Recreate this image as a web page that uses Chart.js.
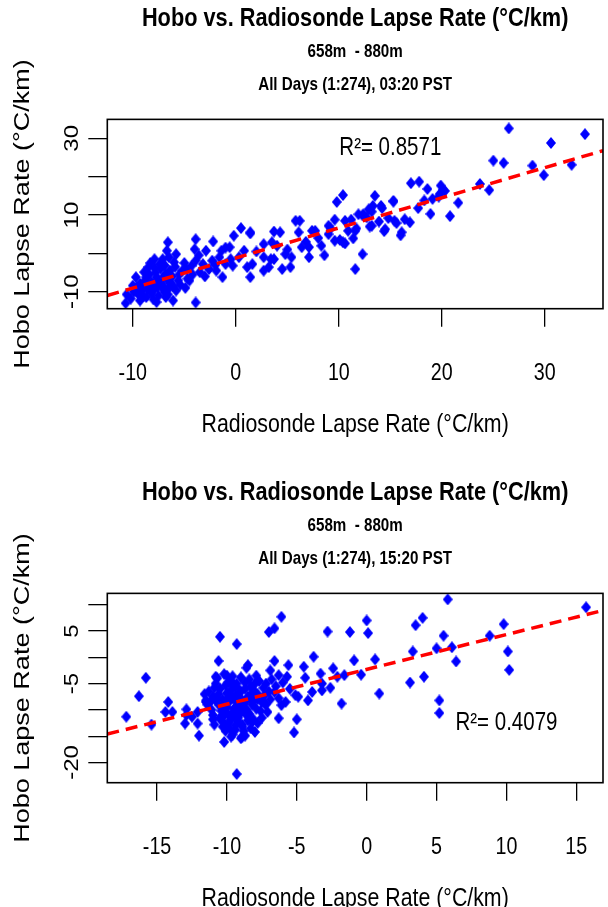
<!DOCTYPE html>
<html>
<head>
<meta charset="utf-8">
<script src="https://cdn.jsdelivr.net/npm/chart.js@4.4.0/dist/chart.umd.min.js"></script>
<style>
  html, body { margin: 0; padding: 0; background: #fff; }
  body { width: 608px; height: 907px; overflow: hidden; position: relative; }
  .panel { position: absolute; left: 0; width: 608px; height: 474px; }
  #panel1 { top: 0; }
  #panel2 { top: 474px; }
</style>
</head>
<body>
<div class="panel" id="panel1"><canvas id="chart0320" width="608" height="474"></canvas></div>
<div class="panel" id="panel2"><canvas id="chart1520" width="608" height="474"></canvas></div>
<script>
// ---- 03:20 PST: radiosonde (x) vs hobo (y) lapse rates, °C/km
const radio0320 = [
  26.5,33.9,30.6,25.0,26.0,28.8,29.9,32.6,23.7,24.6,17.8,18.6,19.9,20.1,19.8,19.1,18.3,21.6,18.9,20.8,17.0,20.3,19.7,17.7,
  10.4,9.8,13.5,15.3,14.1,13.3,11.9,12.4,10.6,9.6,9.0,13.2,14.5,15.4,16.4,16.9,16.1,11.6,10.9,11.6,12.3,14.2,13.2,14.8,15.6,13.9,14.4,13.0,11.7,11.4,10.6,10.1,11.2,12.3,12.7,16.0,15.3,12.9,
  5.8,6.2,7.7,9.0,6.1,3.7,4.3,9.6,10.4,8.3,7.1,6.4,7.1,5.4,4.8,5.3,4.5,3.7,3.4,2.7,1.4,2.7,3.2,1.4,1.6,2.7,0.5,-0.2,1.4,-0.6,0.8,1.1,0.3,-0.3,8.0,6.8,5.0,2.0,4.0,8.6,9.2,7.4,3.5,
  -10.7,-10.6,-10.0,-9.7,-9.0,-8.9,-8.5,-7.9,-7.4,-7.7,-8.2,-7.2,-8.0,-6.9,-6.3,-6.1,-6.8,-8.7,-5.8,-5.6,-6.4,-6.0,-6.7,-5.8,-7.1,-6.9,-9.3,-9.7,-8.7,-5.2,-4.7,-4.5,-4.8,-4.3,-3.9,-4.0,-3.2,-2.6,-3.5,-2.2,-2.9,-2.3,-1.6,-1.9,-1.3,-1.0,-1.4,-3.9,-7.7,-9.3,-6.6,-3.9,
  -8.5,-7.8,-7.0,-6.5,-8.2,-7.5,-9.0,-7.3,-6.2,-5.5,-8.8,-7.6,-6.6,-5.9,-9.5,-10.2,-7.0,-8.3,-6.5,-5.0,-4.2,-3.0,-2.0,-0.5,-1.0,-3.6,-6.8,-7.9,-9.6,-8.0,
  -9.2,-8.6,-8.1,-7.6,-7.1,-6.6,-6.1,-9.9,-8.4,-7.0,-5.4,-4.9
];
const hobo0320 = [
  32.6,31.1,28.8,24.2,23.6,22.9,20.4,23.1,18.1,16.5,18.7,16.8,17.7,16.6,15.5,14.2,13.8,13.2,10.3,9.7,18.3,16.3,14.8,11.8,
  15.2,13.4,15.0,13.7,12.4,12.4,10.2,10.2,8.5,8.8,7.2,7.2,6.3,8.5,8.9,8.1,5.5,5.9,5.9,-4.1,-0.2,11.8,10.9,9.2,7.9,8.3,5.8,7.0,6.5,3.9,2.6,3.5,8.8,9.9,9.4,4.7,13.5,11.5,
  8.5,8.5,5.9,5.0,5.5,5.7,5.5,3.3,2.9,2.0,1.6,1.6,-1.0,-1.0,-0.2,-3.6,-4.1,-1.5,-1.5,2.4,5.5,-4.5,-3.6,-6.2,-2.8,-1.0,6.6,4.6,5.2,1.6,0.7,-3.6,-1.0,-3.2,4.0,3.0,1.0,0.5,2.0,-0.5,6.5,5.9,2.9,
  -13.0,-10.7,-8.4,-9.7,-11.2,-4.9,-3.6,-1.5,-2.8,-6.2,-7.5,-7.9,-9.7,-10.1,-7.9,-12.3,-11.4,-11.4,-9.7,-7.1,-4.5,-2.3,0.7,-0.2,-1.5,-3.2,-7.9,-6.2,-6.2,-4.5,-6.6,-7.1,-4.1,-3.2,-1.9,1.1,-2.8,-4.1,-4.9,3.1,0.7,-1.9,-1.0,-4.5,-6.2,-2.8,0.7,-12.8,-12.7,-12.3,2.9,3.7,
  -8.5,-5.0,-6.0,-9.0,-10.5,-11.0,-9.0,-4.0,-6.0,-5.5,-7.0,-8.8,-7.0,-3.5,-10.5,-11.8,-9.5,-2.5,-1.0,-2.5,-5.5,-6.0,-3.0,-1.5,1.5,-0.5,-5.5,-3.8,-8.8,-12.0,
  -10.0,-9.3,-8.0,-6.8,-8.5,-10.7,-8.6,-10.0,-5.5,-3.0,-8.2,-9.0
];
// fitted line, read at the plot edges
const fit0320X = [-12.48, 35.65];
const fit0320Y = [-11.0, 26.8];
const xTicks0320 = [-10, 0, 10, 20, 30];
const yTicks0320 = [-10, 0, 10, 20, 30];
const yLabels0320 = [-10, 10, 30];

// ---- 15:20 PST
const radio1520 = [
  -17.2,-16.3,-15.8,-15.4,-14.2,-14.4,-13.9,-13.0,-12.9,-12.5,-12.1,-12.0,-11.5,-11.0,-10.5,-10.6,-9.3,-8.5,-8.6,-10.8,-10.2,-9.6,-10.2,-9.3,-9.7,-8.9,-9.0,-8.7,-8.2,-7.1,-6.3,-5.2,-5.0,-12.9,-12.1,-11.5,
  -6.1,-6.6,-7.0,-2.8,-1.2,0.0,0.1,3.5,4.0,3.3,5.0,-6.6,-5.6,-3.8,-4.5,-3.3,-2.4,-2.1,-1.6,-0.9,-0.4,0.6,-6.9,-6.3,-5.7,-4.4,-3.2,-3.2,-2.6,-3.9,-4.2,-5.1,-4.9,-1.8,0.9,3.1,4.1,5.2,5.2,-7.3,-6.3,-6.1,-6.6,-7.2,
  5.8,15.7,9.8,8.8,5.5,6.1,6.4,10.1,10.2,
  -11.3,-11.0,-10.8,-10.5,-10.3,-10.0,-9.8,-9.5,-9.3,-9.0,-8.8,-8.5,-8.2,-8.0,-7.8,-7.5,-10.6,-10.2,-9.9,-9.6,-9.2,-8.9,-8.6,-8.3,-9.4,-10.1,-10.4,-11.1,-11.4,-10.7,-9.7,-9.0,-8.4,-7.9,-7.4,-7.6,-8.1,-9.5,-9.8,-10.9,-9.1,-8.7,-10.0,-9.3,-8.0,-7.3,-7.0,-7.2,-11.6,-10.4,-9.7,-8.9,-8.5,-9.6,-10.3,-8.0,-7.8,-9.2,-10.1,-8.3,-7.7,-9.9,-9.0,-8.6,-10.7,-11.2,-7.5,-8.8,-9.4,-10.0,-6.8,-6.5,-6.0,-5.5,-5.8,-6.9,
  -10.9,-10.6,-10.3,-10.0,-9.7,-9.4,-9.1,-8.8,-8.5,-8.2,-7.9,-10.5,-10.1,-9.8,-9.5,-9.2,-8.9,-8.6,-8.3,-10.8,-10.2,-9.6,-9.0,-8.4,-7.8,-11.0,-9.9,-9.3,-8.7,-8.1
];
const hobo1520 = [
  -11.3,-7.4,-3.9,-12.8,-8.5,-10.4,-10.4,-12.6,-11.0,-11.3,-12.6,-14.9,-8.2,-11.0,3.9,-0.7,2.5,-1.5,-2.0,-3.7,-3.2,-3.6,-16.1,-22.2,-15.1,-15.1,-15.4,-14.9,-12.3,-10.4,-11.6,-14.3,-11.8,-9.9,-10.4,-8.5,
  7.7,5.5,4.8,4.9,4.8,7.0,4.6,6.1,7.5,1.1,1.7,-0.7,-1.5,0.1,-1.8,-3.1,-2.1,-3.7,-3.4,-0.6,-3.3,-0.4,-2.5,-3.4,-3.7,-3.9,-5.0,-6.3,-5.8,-6.6,-8.2,-7.2,-7.5,-8.8,-6.9,-4.8,-3.7,-8.2,-10.6,-8.8,-7.8,-9.1,-6.6,-5.0,
  11.0,9.5,6.3,4.1,4.1,1.9,-0.8,1.1,-2.4,
  -6.5,-7.5,-5.0,-6.0,-8.0,-9.5,-7.0,-5.5,-8.5,-6.5,-10.0,-7.5,-9.0,-5.0,-7.0,-8.5,-9.0,-11.0,-12.5,-10.5,-11.5,-12.8,-11.0,-13.5,-13.8,-14.0,-12.0,-10.0,-9.0,-4.0,-4.5,-3.8,-4.2,-3.5,-5.8,-10.2,-11.8,-9.8,-8.3,-12.8,-7.6,-6.0,-6.8,-5.0,-8.0,-7.2,-6.5,-9.0,-7.0,-10.2,-11.8,-9.2,-12.0,-14.7,-13.2,-14.2,-12.5,-6.0,-5.3,-5.5,-4.5,-10.9,-10.5,-8.2,-7.8,-8.5,-11.5,-14.0,-12.9,-3.5,-4.2,-5.5,-4.8,-6.0,-8.5,-8.0,
  -5.8,-7.0,-9.2,-8.0,-6.2,-7.2,-9.5,-8.8,-10.5,-6.8,-9.8,-11.5,-12.8,-13.5,-11.0,-12.2,-13.2,-9.9,-7.9,-8.2,-10.8,-7.8,-8.0,-10.8,-8.0,-11.8,-4.8,-10.2,-4.8,-6.2
];
const fit1520X = [-18.56, 16.91];
const fit1520Y = [-14.6, 8.9];
const xTicks1520 = [-15, -10, -5, 0, 5, 10, 15];
const yTicks1520 = [-20, -15, -10, -5, 0, 5, 10];
const yLabels1520 = [-20, -5, 5];

const FONT = '"Liberation Sans", Arial, sans-serif';
Chart.defaults.font.family = FONT;
Chart.defaults.color = '#000';

// the original picture is squeezed sideways: squeeze all text by the
// same amount on screen x (so rotated text gets thinner, not shorter)
const SQUEEZE = 0.82;
const narrowText = {
  id: 'narrowText',
  beforeInit(chart) {
    const ctx = chart.ctx;
    const fill = ctx.fillText.bind(ctx);
    ctx.fillText = (text, x, y) => {
      const m = ctx.getTransform();
      const p = m.transformPoint(new DOMPoint(x, y));
      ctx.save();
      ctx.setTransform(new DOMMatrix([SQUEEZE, 0, 0, 1, p.x, p.y])
        .multiply(new DOMMatrix([m.a, m.b, m.c, m.d, 0, 0])));
      fill(text, 0, 0);
      ctx.restore();
    };
  }
};

// R's pch 18, a bit narrower than tall in this picture
function diamondMarker(w, h) {
  const c = document.createElement('canvas');
  c.width = w;
  c.height = h;
  const g = c.getContext('2d');
  g.fillStyle = '#0000ff';
  g.beginPath();
  g.moveTo(w / 2, 0);
  g.lineTo(w, h / 2);
  g.lineTo(w / 2, h);
  g.lineTo(0, h / 2);
  g.closePath();
  g.fill();
  return c;
}
const diamond = diamondMarker(10, 12);

// box round the plot, R-style y labels (parallel to the axis) and the R² note
const framePlugin = {
  id: 'frame',
  afterDraw(chart, args, opts) {
    const { ctx, chartArea: a, scales } = chart;
    ctx.save();
    ctx.strokeStyle = '#000';
    ctx.lineWidth = 1.6;
    ctx.strokeRect(a.left, a.top, a.right - a.left, a.bottom - a.top);
    ctx.fillStyle = '#000';
    ctx.font = '24px ' + FONT;
    ctx.textAlign = 'center';
    ctx.textBaseline = 'middle';
    opts.yLabels.forEach(v => {
      ctx.save();
      ctx.translate(73, scales.y.getPixelForValue(v));
      ctx.rotate(-Math.PI / 2);
      ctx.fillText(String(v), 0, 0);
      ctx.restore();
    });
    ctx.font = '25px ' + FONT;
    ctx.fillText(opts.note, scales.x.getPixelForValue(opts.noteAt[0]), scales.y.getPixelForValue(opts.noteAt[1]));
    ctx.restore();
  }
};

function makeChart(id, d) {
  const points = d.xs.map((x, i) => ({ x: x, y: d.ys[i] }));
  const fitLine = d.fitX.map((x, i) => ({ x: x, y: d.fitY[i] }));
  return new Chart(document.getElementById(id), {
    type: 'scatter',
    data: {
      datasets: [
        { type: 'line', data: fitLine, borderColor: '#ff0000', borderWidth: 3.5, borderDash: [12, 7],
          pointRadius: 0, fill: false },
        { data: points, pointStyle: diamond, pointRadius: 5, backgroundColor: '#0000ff', borderWidth: 0 }
      ]
    },
    options: {
      responsive: false,
      animation: false,
      events: [],
      layout: { padding: { top: 0, right: 2.5, left: 0, bottom: 0 } },
      plugins: {
        legend: { display: false },
        tooltip: { enabled: false },
        title: {
          display: true, fullSize: false, color: '#000',
          text: 'Hobo vs. Radiosonde Lapse Rate (°C/km)',
          font: { size: 26.5, weight: 'bold', lineHeight: 1.15 },
          padding: { top: 3.7, bottom: 0 }
        },
        subtitle: {
          display: true, fullSize: false, color: '#000',
          text: ['658m  - 880m', d.when],
          font: { size: 18.5, weight: 'bold', lineHeight: 33 / 18.5 },
          padding: { top: 1.5, bottom: 17.7 }
        },
        frame: { yLabels: d.yLabels, note: d.note, noteAt: d.noteAt }
      },
      scales: {
        x: {
          type: 'linear', min: d.xMin, max: d.xMax,
          afterBuildTicks: s => { s.ticks = d.xTicks.map(v => ({ value: v })); },
          afterFit: s => { s.height = 165.3; s.paddingLeft = 0; s.paddingRight = 0; },
          grid: { drawOnChartArea: false, drawTicks: true, tickLength: 18, color: '#000', lineWidth: 1.3 },
          border: { display: false },
          ticks: { font: { size: 24 }, color: '#000', padding: 32 },
          title: { display: true, text: 'Radiosonde Lapse Rate (°C/km)', color: '#000',
                   font: { size: 26, lineHeight: 1.2 }, padding: { top: 0, bottom: 34 } }
        },
        y: {
          type: 'linear', min: d.yMin, max: d.yMax,
          afterBuildTicks: s => { s.ticks = d.yTicks.map(v => ({ value: v })); },
          afterFit: s => { s.width = 107.3; s.paddingTop = 0; s.paddingBottom = 0; },
          grid: { drawOnChartArea: false, drawTicks: true, tickLength: 19, color: '#000', lineWidth: 1.3 },
          border: { display: false },
          ticks: { display: false },
          title: { display: true, text: 'Hobo Lapse Rate (°C/km)', color: '#000',
                   font: { size: 27, lineHeight: 1.2 }, padding: { top: 7, bottom: 0 } }
        }
      }
    },
    plugins: [narrowText, framePlugin]
  });
}

makeChart('chart0320', {
  xs: radio0320, ys: hobo0320, fitX: fit0320X, fitY: fit0320Y,
  xTicks: xTicks0320, yTicks: yTicks0320, yLabels: yLabels0320,
  xMin: -12.48, xMax: 35.65, yMin: -14.43, yMax: 34.95,
  when: 'All Days (1:274), 03:20 PST', note: 'R²= 0.8571', noteAt: [15, 27.5]
});
makeChart('chart1520', {
  xs: radio1520, ys: hobo1520, fitX: fit1520X, fitY: fit1520Y,
  xTicks: xTicks1520, yTicks: yTicks1520, yLabels: yLabels1520,
  xMin: -18.56, xMax: 16.91, yMin: -23.85, yMax: 12.15,
  when: 'All Days (1:274), 15:20 PST', note: 'R²= 0.4079', noteAt: [10, -12.5]
});
</script>
</body>
</html>
